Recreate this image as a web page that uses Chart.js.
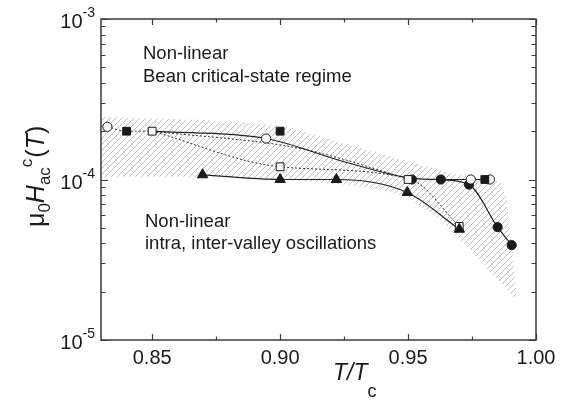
<!DOCTYPE html>
<html>
<head>
<meta charset="utf-8">
<script src="https://cdn.jsdelivr.net/npm/chart.js@4.4.0/dist/chart.umd.min.js"></script>
<style>
  html, body { margin: 0; padding: 0; background: #fff; }
  #wrap { width: 572px; height: 403px; }
</style>
</head>
<body>
<div id="wrap"><canvas id="hacChart" width="572" height="403"></canvas></div>
<script>
// T/Tc and mu0*Hac^c values for each marker set
const openCircleT = [0.8325, 0.8945, 0.9745, 0.982];
const openCircleH = [2.13e-4, 1.80e-4, 1.0e-4, 1.0e-4];

const filledSquareT = [0.840, 0.900, 0.980];
const filledSquareH = [2.0e-4, 2.0e-4, 1.0e-4];

const openSquareT = [0.850, 0.900, 0.950, 0.970];
const openSquareH = [2.0e-4, 1.2e-4, 1.0e-4, 5.1e-5];

const triangleT = [0.8697, 0.900, 0.922, 0.9497, 0.970];
const triangleH = [1.07e-4, 1.0e-4, 1.0e-4, 8.3e-5, 4.9e-5];

const filledCircleT = [0.9515, 0.9628, 0.9738, 0.985, 0.9905];
const filledCircleH = [1.0e-4, 1.0e-4, 9.3e-5, 5.05e-5, 3.9e-5];

// guide curves
const startDotT = [0.8325, 0.840, 0.850];
const startDotH = [2.13e-4, 2.0e-4, 2.0e-4];

const upperSolidT = [0.850, 0.8945, 0.925, 0.951, 0.9628, 0.9745, 0.980];
const upperSolidH = [2.0e-4, 1.80e-4, 1.29e-4, 1.02e-4, 1.0e-4, 1.0e-4, 1.0e-4];

const upperDotT = [0.850, 0.9078, 0.951];
const upperDotH = [2.0e-4, 1.56e-4, 1.0e-4];

const lowerDotT = [0.850, 0.900, 0.951, 0.970];
const lowerDotH = [2.0e-4, 1.2e-4, 1.0e-4, 5.1e-5];

const fallCurveT = [0.9628, 0.9738, 0.985, 0.9905];
const fallCurveH = [1.0e-4, 9.3e-5, 5.05e-5, 3.9e-5];

// hatched band outline: top edge left to right, then bottom edge back
const bandT = [0.830, 0.870, 0.900, 0.939, 0.965, 0.986, 0.9886, 0.9925,
               0.9911, 0.9768, 0.9625, 0.9495, 0.939, 0.925, 0.900, 0.870, 0.830];
const bandH = [2.46e-4, 2.35e-4, 2.18e-4, 1.45e-4, 1.11e-4, 9.7e-5, 7.4e-5, 1.83e-5,
               1.86e-5, 3.3e-5, 5.7e-5, 7.8e-5, 8.6e-5, 9.3e-5, 1.0e-4, 1.04e-4, 1.04e-4];

// axis ticks
const xMajorTicks = [0.85, 0.90, 0.95, 1.00];
const xTickLabels = ['0.85', '0.90', '0.95', '1.00'];
const xMinorTicks = [0.875, 0.925, 0.975];
const yMajorTicks = [1e-5, 1e-4, 1e-3];
const yTickExponents = ['-5', '-4', '-3'];

const FONT = '"Liberation Sans", Arial, Helvetica, sans-serif';
const INK = '#1a1a1a';

function pts(xs, ys) {
  return xs.map((x, i) => ({ x: x, y: ys[i] }));
}

// light diagonal hatch used for the band
function makeHatch() {
  const c = document.createElement('canvas');
  c.width = 6;
  c.height = 6;
  const g = c.getContext('2d');
  g.strokeStyle = '#ababab';
  g.lineWidth = 0.8;
  g.beginPath();
  g.moveTo(-1, 7); g.lineTo(7, -1);
  g.moveTo(-1, 1); g.lineTo(1, -1);
  g.moveTo(5, 7); g.lineTo(7, 5);
  g.stroke();
  return g.createPattern(c, 'repeat');
}

function markerSet(xs, ys, style, radius, fill, order) {
  return {
    data: pts(xs, ys),
    showLine: false,
    pointStyle: style,
    pointRadius: radius,
    pointHoverRadius: radius,
    pointBackgroundColor: fill,
    pointBorderColor: INK,
    pointBorderWidth: 1,
    order: order
  };
}

function curve(xs, ys, dashed, order) {
  return {
    data: pts(xs, ys),
    showLine: true,
    pointRadius: 0,
    borderColor: dashed ? '#333' : '#222',
    borderWidth: dashed ? 1 : 1.2,
    borderDash: dashed ? [2, 2] : [],
    cubicInterpolationMode: 'monotone',
    fill: false,
    order: order
  };
}

// draws a sequence of text pieces with their own font and baseline shift
function drawRuns(ctx, runs, x, y) {
  let cx = x;
  runs.forEach(r => {
    ctx.font = r.font;
    ctx.fillText(r.text, cx, y + (r.dy || 0));
    cx += ctx.measureText(r.text).width + (r.gap || 0);
  });
  return cx - x;
}

function runsWidth(ctx, runs) {
  let w = 0;
  runs.forEach(r => {
    ctx.font = r.font;
    w += ctx.measureText(r.text).width + (r.gap || 0);
  });
  return w;
}

const axesPlugin = {
  id: 'axesFrame',
  afterDatasetsDraw(chart) {
    const { ctx, chartArea: a, scales: { x, y } } = chart;
    ctx.save();

    // frame
    ctx.strokeStyle = '#3a3a3a';
    ctx.lineWidth = 1.5;
    ctx.strokeRect(a.left, a.top, a.right - a.left, a.bottom - a.top);

    // inward ticks on all four sides
    ctx.lineWidth = 1.2;
    ctx.beginPath();
    const xt = (v, len) => {
      const px = Math.round(x.getPixelForValue(v)) + 0.5;
      ctx.moveTo(px, a.bottom); ctx.lineTo(px, a.bottom - len);
      ctx.moveTo(px, a.top); ctx.lineTo(px, a.top + len);
    };
    const yt = (v, len) => {
      const py = Math.round(y.getPixelForValue(v)) + 0.5;
      ctx.moveTo(a.left, py); ctx.lineTo(a.left + len, py);
      ctx.moveTo(a.right, py); ctx.lineTo(a.right - len, py);
    };
    xMajorTicks.forEach(v => xt(v, 6));
    xMinorTicks.forEach(v => xt(v, 3.5));
    yMajorTicks.forEach(v => yt(v, 7));
    for (let d = 0; d < yMajorTicks.length - 1; d++) {
      for (let k = 2; k <= 9; k++) yt(yMajorTicks[d] * k, 4.5);
    }
    ctx.stroke();

    ctx.fillStyle = INK;

    // x tick labels
    ctx.font = '20px ' + FONT;
    ctx.textAlign = 'center';
    ctx.textBaseline = 'top';
    xMajorTicks.forEach((v, i) => {
      ctx.fillText(xTickLabels[i], x.getPixelForValue(v), 348);
    });

    // y tick labels as 10 with raised exponent
    ctx.textAlign = 'left';
    ctx.textBaseline = 'alphabetic';
    yMajorTicks.forEach((v, i) => {
      const py = y.getPixelForValue(v);
      const runs = [
        { text: '10', font: '20px ' + FONT },
        { text: yTickExponents[i], font: '14px ' + FONT, dy: -11 }
      ];
      const w = runsWidth(ctx, runs);
      drawRuns(ctx, runs, 95 - w, py + 9);
    });

    // x title: T/Tc
    const xRuns = [
      { text: 'T/T', font: 'italic 23px ' + FONT },
      { text: 'c', font: '18px ' + FONT, dy: 17 }
    ];
    drawRuns(ctx, xRuns, 333, 380);

    // y title: mu0 Hac^c (T), rotated
    ctx.save();
    ctx.translate(44, 227);
    ctx.rotate(-Math.PI / 2);
    const yRuns = [
      { text: 'μ', font: '25px ' + FONT },
      { text: '0', font: '17px ' + FONT, dy: 6 },
      { text: 'H', font: 'italic 25px ' + FONT },
      { text: 'ac', font: '17px ' + FONT, dy: 6 },
      { text: 'c', font: '17px ' + FONT, dy: -12, gap: 1 },
      { text: '(', font: '25px ' + FONT },
      { text: 'T', font: 'italic 25px ' + FONT },
      { text: ')', font: '25px ' + FONT }
    ];
    drawRuns(ctx, yRuns, 0, 0);
    ctx.restore();

    // regime annotations
    ctx.font = '18.5px ' + FONT;
    ctx.textBaseline = 'middle';
    ctx.fillText('Non-linear', 143, 54);
    ctx.fillText('Bean critical-state regime', 143, 77);
    ctx.fillText('Non-linear', 145, 222);
    ctx.fillText('intra, inter-valley oscillations', 145, 244);

    ctx.restore();
  }
};

const ctx = document.getElementById('hacChart').getContext('2d');
const hatch = makeHatch();

new Chart(ctx, {
  type: 'scatter',
  data: {
    datasets: [
      markerSet(triangleT, triangleH, 'triangle', 6, INK, 1),
      markerSet(filledSquareT, filledSquareH, 'rect', 5.5, INK, 2),
      markerSet(openSquareT, openSquareH, 'rect', 5.5, '#fff', 3),
      markerSet(openCircleT, openCircleH, 'circle', 4.6, '#fff', 4),
      markerSet(filledCircleT, filledCircleH, 'circle', 4.6, INK, 5),
      curve(startDotT, startDotH, true, 6),
      curve(upperSolidT, upperSolidH, false, 6),
      curve(upperDotT, upperDotH, true, 6),
      curve(lowerDotT, lowerDotH, true, 6),
      curve(triangleT, triangleH, false, 6),
      curve(fallCurveT, fallCurveH, false, 6),
      {
        data: pts(bandT, bandH),
        showLine: true,
        pointRadius: 0,
        borderWidth: 0,
        borderColor: 'rgba(0,0,0,0)',
        backgroundColor: hatch,
        fill: 'shape',
        tension: 0,
        order: 10
      }
    ]
  },
  options: {
    responsive: false,
    animation: false,
    events: [],
    layout: { padding: { left: 101, right: 36, top: 19, bottom: 63 } },
    plugins: {
      legend: { display: false },
      tooltip: { enabled: false }
    },
    scales: {
      x: { type: 'linear', min: 0.83, max: 1.0, display: false },
      y: { type: 'logarithmic', min: 1e-5, max: 1e-3, display: false }
    }
  },
  plugins: [axesPlugin]
});
</script>
</body>
</html>
